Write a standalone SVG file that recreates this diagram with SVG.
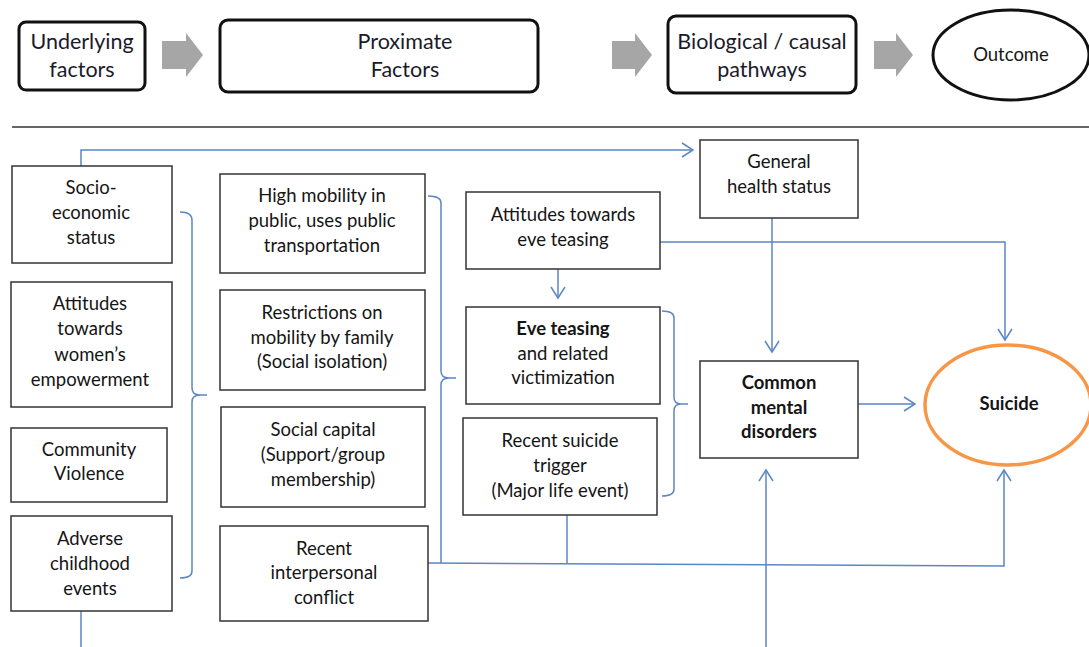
<svg xmlns="http://www.w3.org/2000/svg" width="1089" height="647" viewBox="0 0 1089 647">
<style>
.top{fill:#fff;stroke:#111;stroke-width:3}
.box{fill:#fff;stroke:#333;stroke-width:1.5}
.t{font-family:Lato,"Liberation Sans",sans-serif;font-size:18.5px;fill:#151515;text-anchor:middle}
.tt{font-family:Lato,"Liberation Sans",sans-serif;font-size:21.5px;fill:#1a1a2a;text-anchor:middle}
.b{font-weight:bold}
.c{fill:none;stroke:#5b87c5;stroke-width:1.5}
.ga{fill:#a6a6a6}
</style>
<defs>
<marker id="ah" markerWidth="14" markerHeight="16" refX="12" refY="8" orient="auto" markerUnits="userSpaceOnUse">
<path d="M1,1 L12,8 L1,15" fill="none" stroke="#5b87c5" stroke-width="1.5"/>
</marker>
</defs>
<rect width="1089" height="647" fill="#fff"/>

<g id="header">
<g id="underlying"><rect class="top" x="19" y="22" width="126" height="68" rx="7"/>
<text class="tt" x="82" y="49">Underlying</text><text class="tt" x="82" y="77">factors</text></g>
<path class="ga" d="M162,41 H186 V33 L203,55 L186,77 V69 H162 Z"/>
<g id="proximate"><rect class="top" x="220" y="20" width="318" height="72" rx="8"/>
<text class="tt" x="405" y="49">Proximate</text><text class="tt" x="405" y="77">Factors</text></g>
<path class="ga" d="M612,41 H635 V33 L652,55 L635,77 V69 H612 Z"/>
<g id="biological"><rect class="top" x="668" y="16" width="188" height="77" rx="8"/>
<text class="tt" x="762" y="49">Biological / causal</text><text class="tt" x="762" y="77">pathways</text></g>
<path class="ga" d="M874,41 H896 V33 L913,55 L896,77 V69 H874 Z"/>
<g id="outcome"><ellipse cx="1011" cy="55" rx="78" ry="45" fill="#fff" stroke="#111" stroke-width="3"/>
<text class="t" x="1011" y="61">Outcome</text></g>
<line x1="12" y1="127" x2="1089" y2="127" stroke="#333" stroke-width="1.5"/>
</g>

<g id="connectors">
<path class="c" d="M81,166 V150 H693" marker-end="url(#ah)"/>
<path class="c" d="M81,611 V647"/>
<path class="c" d="M180,212 Q192,212 192,220 V388 Q192,395 200,395 H207 M200,395 Q192,395 192,402 V571 Q192,578 180,578"/>
<path class="c" d="M428,196 Q441,196 441,203 V371 Q441,378 449,378 H456 M449,378 Q441,378 441,385 V563"/>
<path class="c" d="M428,563 L1004,566 V470" marker-end="url(#ah)"/>
<path class="c" d="M567,515 V564"/>
<path class="c" d="M662,311 Q674,311 674,318 V397 Q674,404 681,404 H688 M681,404 Q674,404 674,411 V489 Q674,496 662,496"/>
<path class="c" d="M558,269 V298" marker-end="url(#ah)"/>
<path class="c" d="M660,242 H1005 V340" marker-end="url(#ah)"/>
<path class="c" d="M772,218 V352" marker-end="url(#ah)"/>
<path class="c" d="M766,647 V470" marker-end="url(#ah)"/>
<path class="c" d="M858,404 H915" marker-end="url(#ah)"/>
</g>

<g id="ses"><rect class="box" x="12" y="166" width="160" height="97"/>
<text class="t" x="91" y="194">Socio-</text><text class="t" x="91" y="219">economic</text><text class="t" x="91" y="244">status</text></g>
<g id="attitudes-women"><rect class="box" x="11" y="282" width="161" height="125"/>
<text class="t" x="90" y="310">Attitudes</text><text class="t" x="90" y="335">towards</text><text class="t" x="90" y="361">women’s</text><text class="t" x="90" y="386">empowerment</text></g>
<g id="community"><rect class="box" x="11" y="428" width="156" height="74"/>
<text class="t" x="89" y="456">Community</text><text class="t" x="89" y="480">Violence</text></g>
<g id="adverse"><rect class="box" x="11" y="516" width="161" height="95"/>
<text class="t" x="90" y="545">Adverse</text><text class="t" x="90" y="570">childhood</text><text class="t" x="90" y="595">events</text></g>

<g id="high-mobility"><rect class="box" x="220" y="174" width="205" height="99"/>
<text class="t" x="322" y="202">High mobility in</text><text class="t" x="322" y="227">public, uses public</text><text class="t" x="322" y="252">transportation</text></g>
<g id="restrictions"><rect class="box" x="220" y="290" width="205" height="100"/>
<text class="t" x="322" y="319">Restrictions on</text><text class="t" x="322" y="344">mobility by family</text><text class="t" x="322" y="368">(Social isolation)</text></g>
<g id="social-capital"><rect class="box" x="221" y="407" width="204" height="100"/>
<text class="t" x="323" y="436">Social capital</text><text class="t" x="323" y="461">(Support/group</text><text class="t" x="323" y="486">membership)</text></g>
<g id="interpersonal"><rect class="box" x="220" y="526" width="208" height="95"/>
<text class="t" x="324" y="555">Recent</text><text class="t" x="324" y="579">interpersonal</text><text class="t" x="324" y="604">conflict</text></g>

<g id="attitudes-eve"><rect class="box" x="466" y="192" width="194" height="77"/>
<text class="t" x="563" y="221">Attitudes towards</text><text class="t" x="563" y="246">eve teasing</text></g>
<g id="eve-teasing"><rect class="box" x="466" y="307" width="194" height="97"/>
<text class="t b" x="563" y="335">Eve teasing</text><text class="t" x="563" y="360">and related</text><text class="t" x="563" y="384">victimization</text></g>
<g id="trigger"><rect class="box" x="463" y="418" width="194" height="97"/>
<text class="t" x="560" y="447">Recent suicide</text><text class="t" x="560" y="472">trigger</text><text class="t" x="560" y="497">(Major life event)</text></g>

<g id="general-health"><rect class="box" x="700" y="140" width="158" height="78"/>
<text class="t" x="779" y="168">General</text><text class="t" x="779" y="193">health status</text></g>
<g id="cmd"><rect class="box" x="700" y="361" width="158" height="97"/>
<text class="t b" x="779" y="389">Common</text><text class="t b" x="779" y="414">mental</text><text class="t b" x="779" y="438">disorders</text></g>
<g id="suicide"><ellipse cx="1008" cy="405" rx="83" ry="60" fill="#fff" stroke="#f79646" stroke-width="3.5"/>
<text class="t b" x="1009" y="410">Suicide</text></g>
</svg>
